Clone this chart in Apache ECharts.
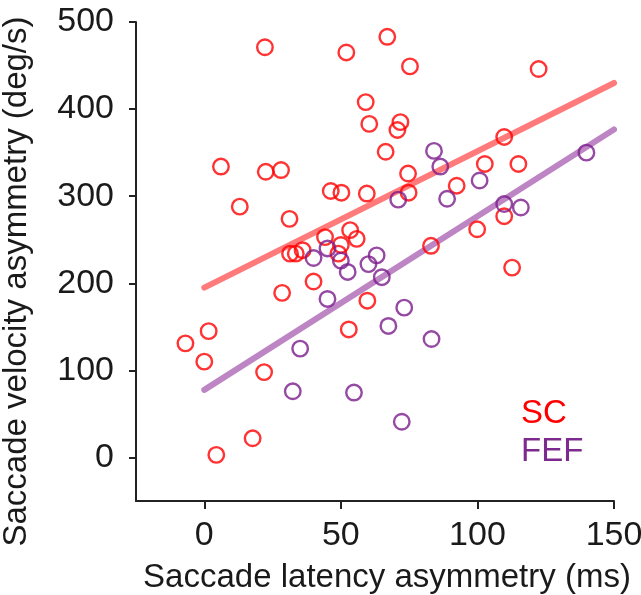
<!DOCTYPE html>
<html>
<head>
<meta charset="utf-8">
<script src="https://cdn.jsdelivr.net/npm/echarts@6/dist/echarts.min.js"></script>
<style>html,body{margin:0;padding:0;background:#fff}#c{width:641px;height:595px}</style>
</head>
<body>
<div id="c"></div>
<script>
// SC (red) points: latency asymmetry (ms), velocity asymmetry (deg/s)
const scX = [22.2, 6.1, 22.5, 28.1, 13.0, 31.2, 31.4, 33.5, 36.0, 67.0, 52.0, 75.3, 59.1, 60.4, 71.8, 70.7, 66.4, 74.6, 46.3, 50.2, 59.5, 74.8, 53.4, 55.8, 44.2, 50.0, 49.1, 83.0, 122.4, 109.8, 102.7, 115.0, 92.4, 109.8, 99.9, 112.7, 28.5, 1.6, -6.9, 0.0, 21.9, 17.7, 4.4, 40.0, 59.7, 52.9];
const scY = [471, 334, 328, 330, 288, 274, 234, 234, 238, 483, 465, 449, 408, 383, 385, 376, 351, 326, 306, 304, 303, 304, 261, 251, 253, 244, 234, 243, 446, 368, 337, 337, 312, 277, 262, 218, 189, 145, 131, 110, 98, 22, 3, 202, 180, 147];
// FEF (purple) points
const fefX = [84.1, 86.4, 71.0, 88.9, 100.8, 109.8, 115.9, 139.9, 40.0, 45.1, 50.0, 52.5, 60.1, 63.1, 65.0, 45.1, 73.2, 67.4, 83.2, 35.1, 32.4, 54.8, 72.3];
const fefY = [352, 334, 296, 297, 318, 291, 287, 350, 229, 240, 226, 213, 222, 232, 207, 182, 172, 151, 136, 125, 76, 74.5, 41];
// regression line endpoints
const scFitX = [0, 150];
const scFitY = [195, 430];
const fefFitX = [0, 150];
const fefFitY = [77.6, 376.6];
// ticks
const xTicks = [0, 50, 100, 150];
const yTicks = [0, 100, 200, 300, 400, 500];

const zip = (a, b) => a.map((v, i) => [v, b[i]]);
const FONT = 'Liberation Sans, Arial, sans-serif';
const TXT = '#1a1a1a';
const SC_COL = '#ff0000';
const FEF_COL = '#7a1b8c';

const chart = echarts.init(document.getElementById('c'), null, {renderer: 'canvas'});
chart.setOption({
  animation: false,
  backgroundColor: '#fff',
  grid: {left: 136, right: 27, top: 22, bottom: 94, containLabel: false, outerBoundsMode: 'none'},
  xAxis: {
    type: 'value', min: -25, max: 150,
    name: 'Saccade latency asymmetry (ms)', nameLocation: 'middle', nameGap: 60,
    nameTextStyle: {fontFamily: FONT, fontSize: 33, color: TXT, padding: [0, 0, 0, 24]},
    axisLine: {show: true, onZero: false, lineStyle: {color: '#222', width: 2}},
    axisTick: {show: true, length: 8, lineStyle: {color: '#222', width: 2}, customValues: xTicks},
    axisLabel: {fontFamily: FONT, fontSize: 34, color: TXT, margin: 18, customValues: xTicks},
    splitLine: {show: false}
  },
  yAxis: {
    type: 'value', min: -50, max: 500,
    name: 'Saccade velocity asymmetry (deg/s)', nameLocation: 'middle', nameGap: 103,
    nameTextStyle: {fontFamily: FONT, fontSize: 33, color: TXT, padding: [0, 40, 0, 0]},
    axisLine: {show: true, onZero: false, lineStyle: {color: '#222', width: 2}},
    axisTick: {show: true, length: 7, lineStyle: {color: '#222', width: 2}, customValues: yTicks},
    axisLabel: {fontFamily: FONT, fontSize: 34, color: TXT, margin: 22, customValues: yTicks},
    splitLine: {show: false}
  },
  series: [
    {type: 'line', name: 'SC fit', data: zip(scFitX, scFitY), symbol: 'none', z: 1,
     lineStyle: {color: '#ff7b7b', width: 6, cap: 'round'}},
    {type: 'line', name: 'FEF fit', data: zip(fefFitX, fefFitY), symbol: 'none', z: 1,
     lineStyle: {color: '#bd85c4', width: 6, cap: 'round'}},
    {type: 'scatter', name: 'SC', data: zip(scX, scY), symbol: 'circle', symbolSize: 15.5, z: 3,
     itemStyle: {color: 'rgba(0,0,0,0)', borderColor: SC_COL, borderWidth: 2.4}},
    {type: 'scatter', name: 'FEF', data: zip(fefX, fefY), symbol: 'circle', symbolSize: 15.5, z: 3,
     itemStyle: {color: 'rgba(0,0,0,0)', borderColor: FEF_COL, borderWidth: 2.4}}
  ],
  graphic: [
    {type: 'text', left: 521, top: 397, style: {text: 'SC', fontFamily: FONT, fontSize: 33, fill: SC_COL}},
    {type: 'text', left: 521, top: 435, style: {text: 'FEF', fontFamily: FONT, fontSize: 33, fill: '#7d2a8e'}}
  ]
});
</script>
</body>
</html>
